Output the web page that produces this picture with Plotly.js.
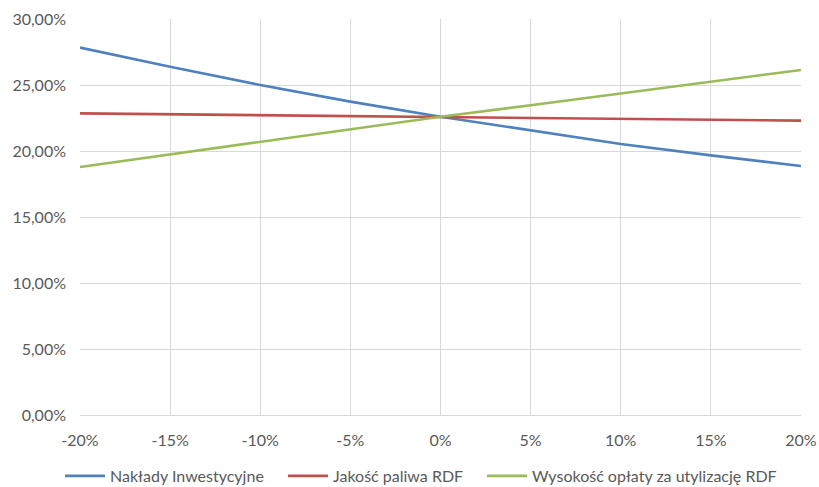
<!DOCTYPE html>
<html>
<head>
<meta charset="utf-8">
<script src="https://cdn.plot.ly/plotly-3.0.1.min.js"></script>
<style>
  html, body { margin: 0; padding: 0; background: #ffffff; }
  #chart { width: 819px; height: 487px; }
</style>
</head>
<body>
<div id="chart"></div>
<script>
// Sensitivity of the result to changes in each input parameter
const changes = [-0.20, -0.15, -0.10, -0.05, 0, 0.05, 0.10, 0.15, 0.20];
const changeLabels = ['-20%', '-15%', '-10%', '-5%', '0%', '5%', '10%', '15%', '20%'];

const seriesNames = ['Nakłady Inwestycyjne', 'Jakość paliwa RDF', 'Wysokość opłaty za utylizację RDF'];
const investment = [0.2783, 0.2638, 0.2500, 0.2374, 0.2260, 0.2154, 0.2053, 0.1967, 0.1886];
const fuelQuality = [0.2285, 0.2278, 0.2272, 0.2266, 0.2260, 0.2253, 0.2246, 0.2240, 0.2230];
const disposalFee = [0.1879, 0.1975, 0.2070, 0.2164, 0.2260, 0.2346, 0.2437, 0.2525, 0.2614];

const seriesValues = [investment, fuelQuality, disposalFee];
const seriesColors = ['#4f81bd', '#c0504d', '#9bbb59'];
const legendIds = ['legend', 'legend2', 'legend3'];
// left edge of each legend entry, in paper fraction
const legendX = [-0.0277, 0.2816, 0.5576];

const traces = seriesValues.map((vals, i) => ({
  x: changes,
  y: vals,
  name: seriesNames[i],
  legend: legendIds[i],
  type: 'scatter',
  mode: 'lines',
  line: { color: seriesColors[i], width: 2.6 },
  hoverinfo: 'x+y'
}));

const fontFamily = 'Lato, "Liberation Sans", sans-serif';

const layout = {
  width: 819,
  height: 487,
  margin: { l: 80, r: 18, t: 19, b: 72, autoexpand: false },
  paper_bgcolor: '#ffffff',
  plot_bgcolor: '#ffffff',
  separators: ', ',
  font: { family: fontFamily, size: 16, color: '#595959' },
  showlegend: true,
  xaxis: {
    range: [-0.20, 0.20],
    tickvals: changes,
    ticktext: changeLabels,
    showgrid: true,
    gridcolor: '#d9d9d9',
    gridwidth: 1,
    zeroline: false,
    showline: true,
    linecolor: '#d9d9d9',
    mirror: false,
    ticks: '',
    ticklabelstandoff: 11,
    tickfont: { family: fontFamily, size: 16, color: '#595959' },
    fixedrange: true
  },
  yaxis: {
    range: [0, 0.30],
    dtick: 0.05,
    tick0: 0,
    tickformat: '.2%',
    showgrid: true,
    gridcolor: '#d9d9d9',
    gridwidth: 1,
    zeroline: false,
    showline: false,
    ticks: '',
    ticklabelstandoff: 13,
    tickfont: { family: fontFamily, size: 16, color: '#595959' },
    fixedrange: true
  }
};

legendIds.forEach((id, i) => {
  layout[id] = {
    orientation: 'h',
    x: legendX[i], xanchor: 'left',
    y: -0.154, yanchor: 'middle',
    font: { family: fontFamily, size: 16, color: '#595959' },
    itemwidth: 40,
    bgcolor: 'rgba(0,0,0,0)'
  };
});

Plotly.newPlot('chart', traces, layout, { displayModeBar: false, staticPlot: true });
</script>
</body>
</html>
